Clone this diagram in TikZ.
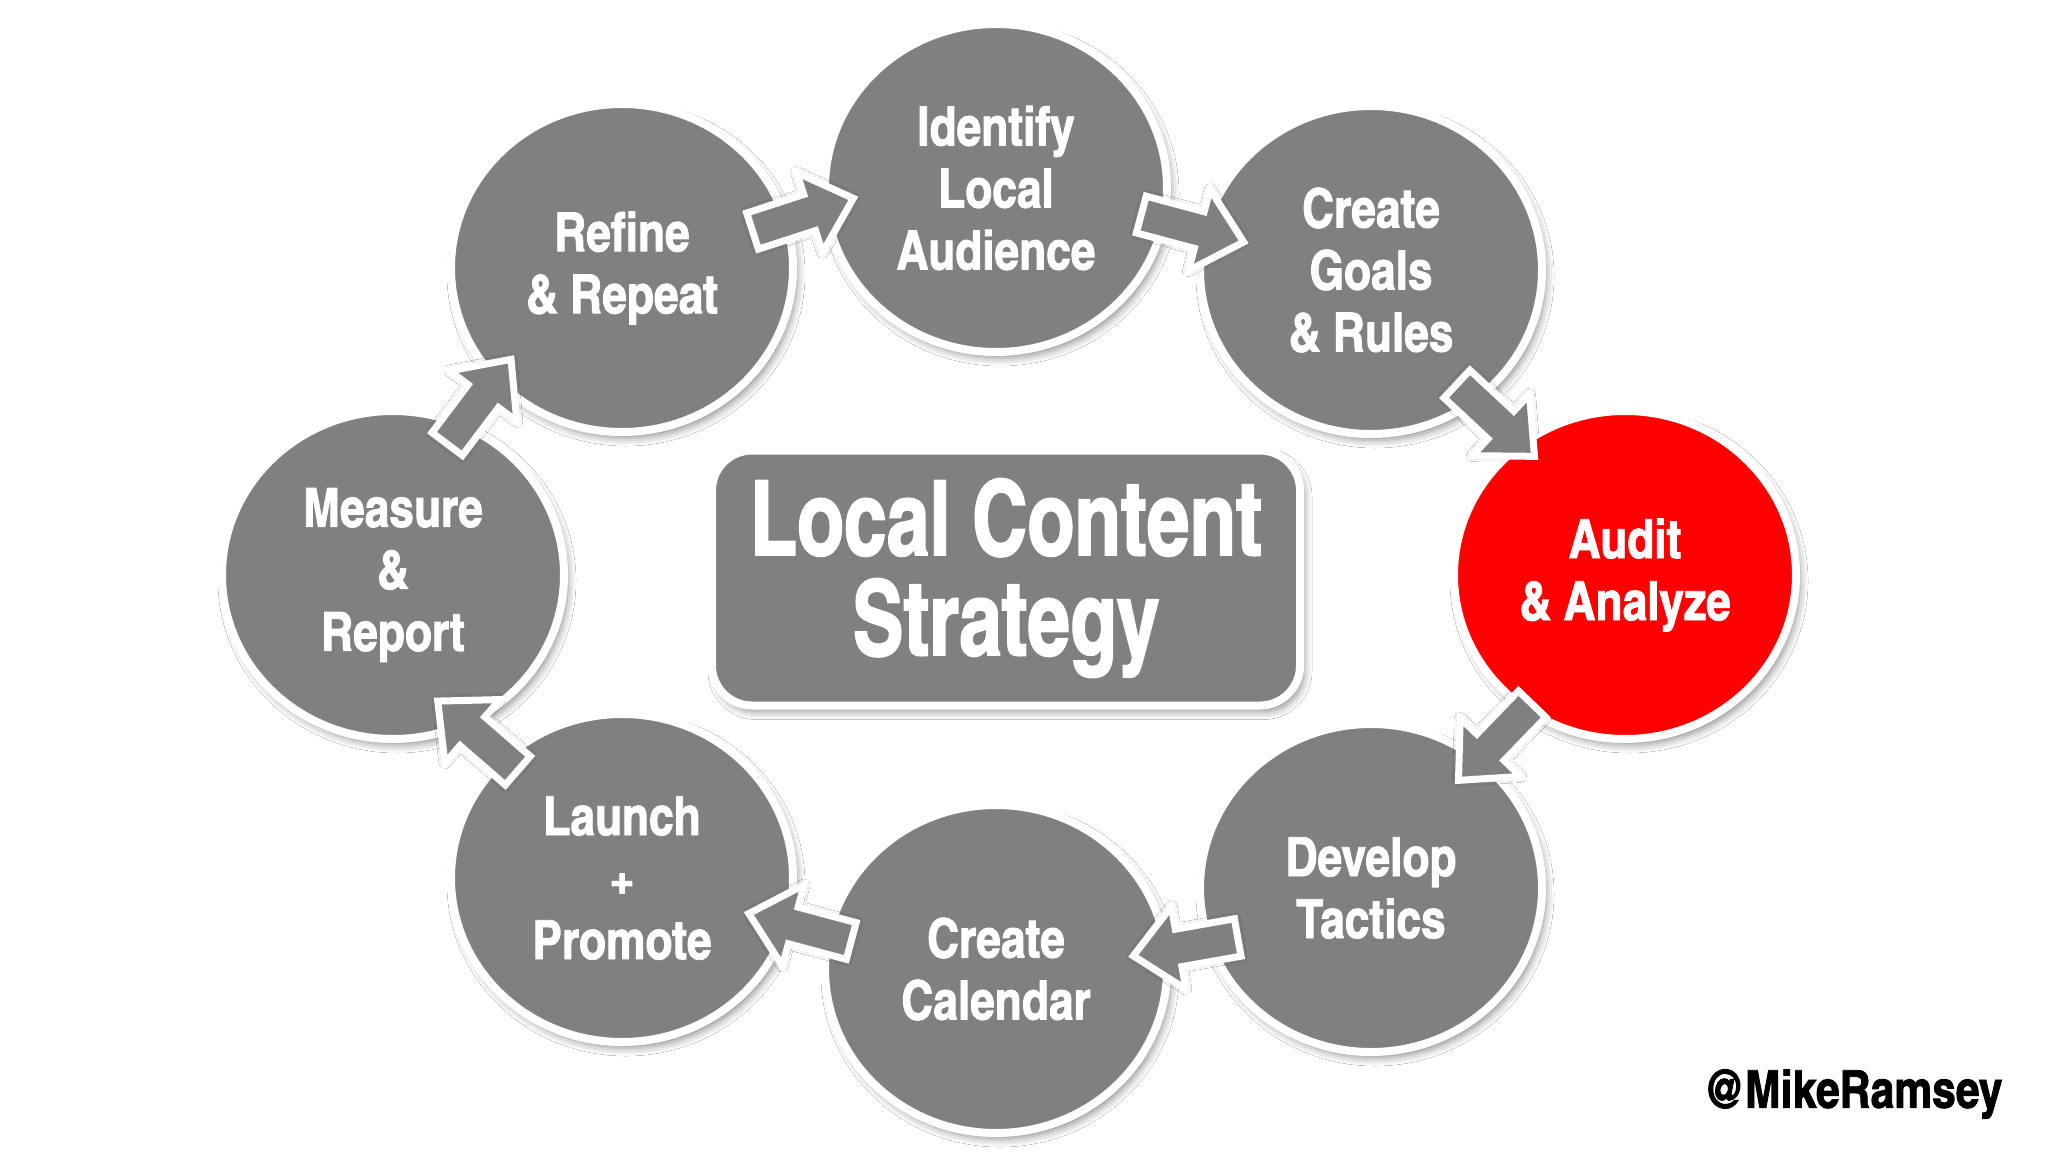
\documentclass[tikz,border=0pt]{standalone}
\usepackage{fontspec}
\usetikzlibrary{shapes.geometric,shadows.blur,calc}
\newfontfamily\impactf{texgyreheroscn-bold}[Extension=.otf, FakeBold=1.6]
\newfontfamily\titlef{texgyreheroscn-bold}[Extension=.otf, FakeStretch=0.9, FakeBold=1.6]
\definecolor{stepgray}{RGB}{128,128,128}
\definecolor{stepred}{RGB}{255,0,0}
\tikzset{
  stage/.style={ellipse, fill=stepgray, draw=white, line width=8pt,
    minimum width=342pt, minimum height=328pt, inner sep=0pt,
    text=white, align=center, font=\impactf\fontsize{54}{62}\selectfont,
    blur shadow={shadow xshift=4pt, shadow yshift=-6pt, shadow blur radius=8pt, shadow opacity=45}},
  hot/.style={fill=stepred},
  titlebox/.style={rectangle, rounded corners=40pt, fill=stepgray, draw=white, line width=8pt,
    minimum width=588pt, minimum height=255pt, inner sep=0pt,
    text=white, align=center, font=\titlef\fontsize{104}{100}\selectfont,
    blur shadow={shadow xshift=4pt, shadow yshift=-6pt, shadow blur radius=8pt, shadow opacity=45}},
  blockarr/.pic={
    \draw[fill=stepgray, draw=white, line width=7pt, line join=miter,
      blur shadow={shadow xshift=0pt, shadow yshift=0pt, shadow blur radius=6pt, shadow opacity=40}]
      (-52,-19) -- (8,-19) -- (8,-42) -- (54,0) -- (8,42) -- (8,19) -- (-52,19) -- cycle;
  }
}
\begin{document}
\begin{tikzpicture}[x=1pt,y=-1pt]
\useasboundingbox (0,0) rectangle (2048,1152);
\fill[white] (0,0) rectangle (2048,1152);

\node[stage] (refine)   at (622,268) {Refine\\\& Repeat};
\node[stage] (identify) at (996,188) {Identify\\Local\\Audience};
\node[stage] (goals)    at (1371,270) {Create\\Goals\\\& Rules};
\node[stage,hot] (audit) at (1625,575) {Audit\\\& Analyze};
\node[stage] (develop)  at (1371,888) {Develop\\Tactics};
\node[stage] (calendar) at (996,969) {Create\\Calendar};
\node[stage] (launch)   at (622,878) {Launch\\+\\Promote};
\node[stage] (measure)  at (393,575) {Measure\\\&\\Report};

\node[titlebox] (box) at (1006,578) {Local Content\\Strategy};

\pic[rotate=18]   at ($(refine)!.5!(identify)+(-7,-13)$) {blockarr};
\pic[rotate=-15]  at ($(identify)!.5!(goals)+(8,-1)$) {blockarr};
\pic[rotate=-43]  at ($(goals)!.5!(audit)+(-3,-3)$) {blockarr};
\pic[rotate=-134] at ($(audit)!.5!(develop)+(-2,10)$) {blockarr};
\pic[rotate=-170] at ($(develop)!.5!(calendar)+(3,18)$) {blockarr};
\pic[rotate=165]  at ($(calendar)!.5!(launch)+(-8,4)$) {blockarr};
\pic[rotate=139]  at ($(launch)!.5!(measure)+(-29,10)$) {blockarr};
\pic[rotate=53]   at ($(measure)!.5!(refine)+(-29,-19)$) {blockarr};

\node[font=\impactf\fontsize{52}{58}\selectfont, text=black, inner sep=0pt] (handle) at (1853,1094) {@MikeRamsey};
\end{tikzpicture}
\end{document}
